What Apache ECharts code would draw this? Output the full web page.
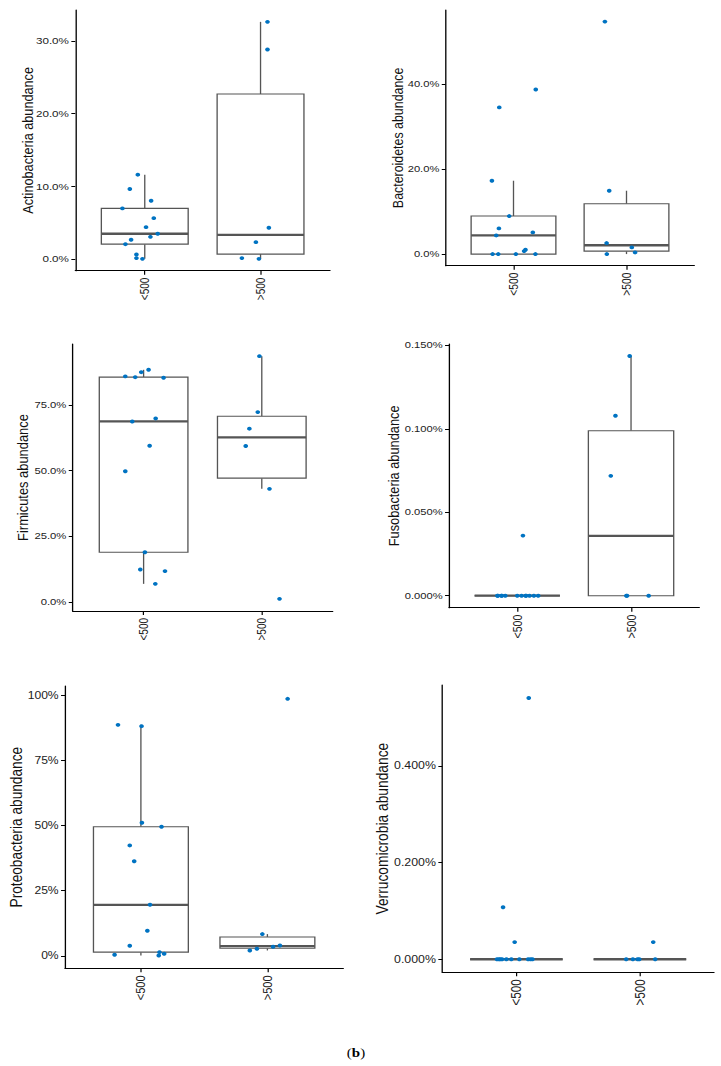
<!DOCTYPE html>
<html>
<head>
<meta charset="utf-8">
<script src="https://cdn.jsdelivr.net/npm/echarts@6/dist/echarts.min.js"></script>
<style>
html,body{margin:0;padding:0;background:#fff;overflow:hidden;}
#chart{width:600.83px;height:1066px;transform:scaleX(1.2);transform-origin:0 0;}
</style>
</head>
<body>
<div id="chart"></div>
<script>
// ---------------- data (values in percent) ----------------
const groups = ['<500', '>500'];

const actinoLow = [6.94, 9.6, 11.58, 7.99, 5.6, 4.36, 3.45, 3.03, 2.62, 2.02, 0.6, 0.1, 0.0];
const actinoLowJit = [-0.193, -0.129, -0.060, 0.055, 0.078, 0.011, 0.112, 0.049, -0.118, -0.167, -0.072, -0.072, -0.020];
const actinoHigh = [32.6, 28.8, 4.27, 2.3, 0.1, 0.0];
const actinoHighJit = [0.060, 0.060, 0.072, -0.040, -0.161, -0.014];
const actinoTicks = [0, 10, 20, 30];

const bactLow = [17.25, 34.5, 38.7, 8.94, 6.04, 4.39, 5.1, 1.02, 0.7, 0, 0, 0, 0];
const bactLowJit = [-0.191, -0.126, 0.197, -0.038, -0.129, -0.153, 0.171, 0.106, 0.094, -0.185, -0.135, 0.021, 0.194];
const bactHigh = [54.67, 14.9, 2.59, 1.57, 0.39, 0];
const bactHighJit = [-0.191, -0.153, -0.176, 0.047, 0.076, -0.174];
const bactTicks = [0, 20, 40];

const firmLow = [85.8, 85.5, 87.4, 88.3, 85.3, 68.65, 69.8, 59.4, 49.7, 18.9, 12.3, 11.7, 6.85];
const firmLowJit = [-0.155, -0.071, -0.020, 0.042, 0.169, -0.096, 0.102, 0.051, -0.155, 0.011, -0.028, 0.181, 0.099];
const firmHigh = [93.5, 72.2, 65.9, 59.3, 43.0, 1.14];
const firmHighJit = [-0.020, -0.034, -0.105, -0.136, 0.065, 0.150];
const firmTicks = [0, 25, 50, 75];

const fusoLow = [0.036, 0, 0, 0, 0, 0, 0, 0, 0, 0, 0, 0, 0];
const fusoLowJit = [0.050, -0.175, -0.170, -0.140, -0.105, 0.0, 0.038, 0.073, 0.108, 0.146, 0.184, -0.135, 0.078];
const fusoHigh = [0.1436, 0.1078, 0.0718, 0, 0, 0];
const fusoHighJit = [-0.012, -0.137, -0.178, -0.041, 0.155, -0.035];
const fusoTicks = [0, 0.05, 0.1, 0.15];

const proteoLow = [88.7, 88.2, 51.1, 49.55, 42.4, 36.3, 19.6, 9.6, 3.85, 0.4, 1.4, 0.77, 0.13];
const proteoLowJit = [-0.181, 0.005, 0.008, 0.163, -0.088, -0.053, 0.072, 0.051, -0.088, -0.208, 0.147, 0.184, 0.141];
const proteoHigh = [98.7, 8.34, 3.98, 3.47, 2.7, 2.05];
const proteoHighJit = [0.160, -0.040, 0.099, 0.045, -0.083, -0.139];
const proteoTicks = [0, 25, 50, 75, 100];

const verrLow = [0.540, 0.1076, 0.0354, 0, 0, 0, 0, 0, 0, 0, 0, 0, 0];
const verrLowJit = [0.100, -0.108, -0.014, -0.157, -0.141, -0.130, -0.116, -0.081, -0.041, 0.024, 0.095, 0.114, 0.130];
const verrHigh = [0.0354, 0, 0, 0, 0, 0];
const verrHighJit = [0.108, -0.111, -0.057, -0.019, -0.005, 0.124];
const verrTicks = [0, 0.2, 0.4];

const panelTitles = ['Actinobacteria abundance', 'Bacteroidetes abundance', 'Firmicutes abundance',
  'Fusobacteria abundance', 'Proteobacteria abundance', 'Verrucomicrobia abundance'];
const panelDecimals = [1, 1, 1, 3, 0, 3];

// ---------------- layout & style ----------------
const S = 1.2; // horizontal stretch of the reference figure
const FONT = 'Liberation Sans, Arial, Helvetica, sans-serif';
const BLUE = '#0073C2';
const BOXCOL = '#555555';
const BOX_W = 0.75;

// [left, top, right, bottom] in reference pixels
const layouts = [
  [75.3, 10, 330, 270.7],
  [445.7, 10, 694.3, 265.7],
  [72.7, 344, 332.7, 611],
  [449, 344, 699.3, 607.7],
  [65, 686, 343.3, 968.3],
  [442.3, 685, 714, 972.3]
];
// tick font, title font, x label font, name gap
const fonts = [
  [9.7, 12.7, 10.0, 33.5],
  [9.3, 12.4, 10.2, 34],
  [9.4, 12.9, 10.0, 35],
  [9.3, 12.8, 10.6, 39.5],
  [10.1, 13.7, 11.1, 34],
  [10.3, 13.8, 11.6, 43]
];

const panels = [
  [actinoLow, actinoLowJit, actinoHigh, actinoHighJit, actinoTicks],
  [bactLow, bactLowJit, bactHigh, bactHighJit, bactTicks],
  [firmLow, firmLowJit, firmHigh, firmHighJit, firmTicks],
  [fusoLow, fusoLowJit, fusoHigh, fusoHighJit, fusoTicks],
  [proteoLow, proteoLowJit, proteoHigh, proteoHighJit, proteoTicks],
  [verrLow, verrLowJit, verrHigh, verrHighJit, verrTicks]
];

// ---------------- statistics (R type-7 quantiles, Tukey whiskers) ----------------
function quantile(sorted, p) {
  const h = (sorted.length - 1) * p;
  const lo = Math.floor(h), hi = Math.ceil(h);
  return sorted[lo] + (h - lo) * (sorted[hi] - sorted[lo]);
}
function boxStats(values) {
  const s = values.slice().sort((a, b) => a - b);
  const q1 = quantile(s, 0.25), md = quantile(s, 0.5), q3 = quantile(s, 0.75);
  const iqr = q3 - q1;
  const lf = q1 - 1.5 * iqr, hf = q3 + 1.5 * iqr;
  const lo = Math.min(...s.filter(v => v >= lf));
  const hi = Math.max(...s.filter(v => v <= hf));
  return [lo, q1, md, q3, hi];
}

function renderBox(params, api) {
  const x = api.value(0);
  const lo = api.value(1), q1 = api.value(2), md = api.value(3), q3 = api.value(4), hi = api.value(5);
  const half = api.size([BOX_W, 0])[0] / 2;
  const pLo = api.coord([x, lo]), pQ1 = api.coord([x, q1]), pMd = api.coord([x, md]);
  const pQ3 = api.coord([x, q3]), pHi = api.coord([x, hi]);
  const cx = pMd[0];
  const ls = { stroke: BOXCOL, lineWidth: 1.1, fill: null };
  return {
    type: 'group',
    children: [
      { type: 'line', shape: { x1: cx, y1: pQ3[1], x2: cx, y2: pHi[1] }, style: ls },
      { type: 'line', shape: { x1: cx, y1: pQ1[1], x2: cx, y2: pLo[1] }, style: ls },
      { type: 'rect', shape: { x: cx - half, y: pQ3[1], width: 2 * half, height: pQ1[1] - pQ3[1] },
        style: { stroke: BOXCOL, lineWidth: 1.1, fill: '#ffffff' } },
      { type: 'line', shape: { x1: cx - half, y1: pMd[1], x2: cx + half, y2: pMd[1] },
        style: { stroke: BOXCOL, lineWidth: 2.3 } }
    ]
  };
}

const grids = [], xAxes = [], yAxes = [], series = [];
panels.forEach((p, i) => {
  const [low, lowJit, high, highJit, ticks] = p;
  const L = layouts[i];
  const F = fonts[i];
  grids.push({
    left: L[0] / S, top: L[1], width: (L[2] - L[0]) / S, height: L[3] - L[1],
    containLabel: false, outerBoundsMode: 'none'
  });
  const all = low.concat(high);
  const dmin = Math.min(...all), dmax = Math.max(...all);
  const pad = 0.05 * (dmax - dmin);
  xAxes.push({
    type: 'value', gridIndex: i, min: 0.4, max: 2.6,
    axisLine: { show: true, onZero: false, lineStyle: { color: '#000', width: 1.1 } },
    axisTick: { show: true, customValues: [1, 2], length: 4, lineStyle: { color: '#000', width: 1 } },
    axisLabel: {
      show: true, customValues: [1, 2], rotate: 90, margin: 7,
      formatter: v => groups[Math.round(v) - 1],
      fontSize: F[2], color: '#222', fontFamily: FONT
    },
    splitLine: { show: false }
  });
  const dec = panelDecimals[i];
  yAxes.push({
    type: 'value', gridIndex: i, min: dmin - pad, max: dmax + pad,
    axisLine: { show: true, onZero: false, lineStyle: { color: '#000', width: 1.1 } },
    axisTick: { show: true, customValues: ticks, length: 3.3, lineStyle: { color: '#000', width: 1 } },
    axisLabel: {
      show: true, customValues: ticks, margin: 5.3,
      formatter: v => Number(v).toFixed(dec) + '%',
      fontSize: F[0], color: '#222', fontFamily: FONT
    },
    splitLine: { show: false },
    name: panelTitles[i], nameLocation: 'middle', nameRotate: 90, nameGap: F[3],
    nameMoveOverlap: false,
    nameTextStyle: { fontSize: F[1], color: '#111', fontFamily: FONT }
  });
  series.push({
    type: 'custom', xAxisIndex: i, yAxisIndex: i, z: 2,
    renderItem: renderBox,
    encode: { x: 0, y: [1, 2, 3, 4, 5] },
    data: [[1].concat(boxStats(low)), [2].concat(boxStats(high))],
    silent: true
  });
  series.push({
    type: 'scatter', xAxisIndex: i, yAxisIndex: i, z: 3,
    symbol: 'circle', symbolSize: 3.9,
    itemStyle: { color: BLUE, opacity: 1 },
    data: low.map((v, k) => [1 + lowJit[k], v]).concat(high.map((v, k) => [2 + highJit[k], v])),
    silent: true
  });
});

const chart = echarts.init(document.getElementById('chart'), null, { renderer: 'svg' });
chart.setOption({
  animation: false,
  backgroundColor: '#ffffff',
  grid: grids,
  xAxis: xAxes,
  yAxis: yAxes,
  series: series,
  graphic: [{
    type: 'text', x: 356 / S, y: 1053,
    style: {
      text: '{n|(}{b|b}{n|)}',
      textAlign: 'center', textVerticalAlign: 'middle',
      rich: {
        n: { fontFamily: 'Liberation Serif, DejaVu Serif, serif', fontSize: 12.5, fill: '#000' },
        b: { fontFamily: 'Liberation Serif, DejaVu Serif, serif', fontSize: 12.5, fontWeight: 'bold', fill: '#000' }
      }
    }
  }]
});
</script>
</body>
</html>
